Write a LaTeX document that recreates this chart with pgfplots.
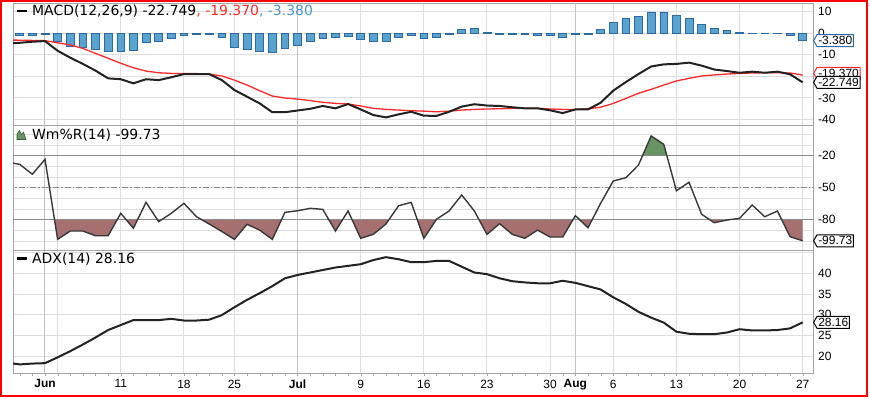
\documentclass[border=0pt]{standalone}
\usepackage{fontspec}
\setmainfont{DejaVu Sans}
\newfontfamily\arialf{Liberation Sans}
\usepackage{pgfplots}
\usepackage{pgfplotstable}
\pgfplotsset{compat=1.18}
\usetikzlibrary{shapes.symbols}

\definecolor{gridc}{RGB}{222,222,222}
\definecolor{monthc}{RGB}{195,195,195}
\definecolor{framec}{RGB}{165,165,165}
\definecolor{histfill}{RGB}{88,163,208}
\definecolor{histdraw}{RGB}{45,105,165}
\definecolor{histtxt}{RGB}{70,150,205}
\definecolor{sigred}{RGB}{255,40,40}
\definecolor{wmred}{RGB}{166,112,112}
\definecolor{wmgreen}{RGB}{104,148,100}
\definecolor{lineblk}{RGB}{34,34,34}
\definecolor{refc}{RGB}{140,140,140}

\pgfplotstableread{
i m s
-3 -4.8 -3.1
-2 -4.4 -3.2
-1 -3.9 -3.3
0 -3.6 -3.4
1 -8.1 -4.4
2 -11.3 -5.4
3 -14.2 -7.0
4 -17.3 -9.3
5 -20.9 -11.6
6 -21.3 -13.9
7 -23.2 -16.0
8 -21.3 -17.5
9 -21.7 -18.3
10 -20.4 -18.6
11 -18.9 -18.6
12 -18.9 -18.7
13 -18.9 -18.9
14 -21.7 -19.8
15 -26.3 -21.7
16 -29.4 -24.0
17 -32.5 -26.6
18 -36.6 -29.1
19 -36.6 -30.0
20 -35.8 -30.5
21 -35.0 -31.2
22 -33.7 -32.0
23 -34.8 -32.5
24 -32.8 -32.8
25 -35.3 -33.7
26 -37.9 -34.8
27 -39.0 -35.3
28 -37.6 -35.6
29 -36.4 -35.9
30 -38.2 -36.1
31 -38.3 -36.4
32 -36.4 -36.1
33 -34.0 -35.6
34 -32.9 -35.3
35 -33.5 -35.1
36 -33.7 -35.0
37 -34.3 -34.8
38 -34.8 -34.8
39 -34.8 -34.8
40 -35.7 -35.1
41 -37.0 -35.3
42 -35.3 -35.3
43 -35.3 -35.0
44 -32.2 -34.3
45 -26.6 -32.5
46 -22.6 -30.2
47 -18.9 -27.8
48 -15.4 -26.0
49 -14.4 -24.0
50 -14.2 -22.1
51 -13.6 -20.9
52 -15.0 -19.8
53 -16.8 -19.3
54 -17.5 -18.9
55 -18.3 -18.6
56 -17.8 -18.4
57 -18.3 -18.3
58 -17.8 -18.3
59 -19.0 -18.4
60 -22.749 -19.37
}\macdtab

\pgfplotstableread{
i h
-2 -1.0
-1 -0.8
0 -0.3
1 -3.7
2 -6.0
3 -6.7
4 -7.6
5 -8.6
6 -8.2
7 -8.0
8 -4.4
9 -3.7
10 -2.4
11 -1.0
12 -0.6
13 -0.6
14 -2.1
15 -6.4
16 -7.5
17 -8.3
18 -9.0
19 -7.2
20 -5.8
21 -3.9
22 -2.3
23 -2.1
24 -1.2
25 -2.8
26 -3.9
27 -3.6
28 -2.1
29 -1.1
30 -2.3
31 -2.0
32 -0.3
33 1.8
34 2.3
35 0.6
36 -0.3
37 -0.3
38 -0.7
39 -0.9
40 -1.0
41 -1.7
42 -0.5
43 -0.3
44 1.9
45 4.9
46 7.0
47 8.0
48 9.9
49 9.9
50 8.3
51 7.0
52 4.2
53 2.3
54 1.4
55 0.3
56 -0.2
57 0.2
58 -0.2
59 -0.8
60 -3.38
}\histtab

\pgfplotstableread{
i w
-3 -26.0
-2 -28.1
-1 -37.4
0 -23.4
1 -98.4
2 -90.6
3 -90.6
4 -95.0
5 -95.0
6 -74.0
7 -88.0
8 -63.7
9 -81.8
10 -74.0
11 -64.6
12 -77.2
13 -84.0
14 -91.0
15 -98.4
16 -84.3
17 -89.7
18 -98.4
19 -73.1
20 -71.6
21 -69.3
22 -70.3
23 -90.6
24 -71.8
25 -97.4
26 -93.7
27 -84.0
28 -66.9
29 -63.7
30 -97.4
31 -79.6
32 -71.8
33 -56.8
34 -71.8
35 -93.7
36 -83.7
37 -93.7
38 -97.4
39 -89.7
40 -96.2
41 -96.2
42 -76.2
43 -87.5
44 -64.6
45 -43.7
46 -40.6
47 -28.7
48 -1.5
49 -9.3
50 -52.8
51 -44.9
52 -74.9
53 -82.8
54 -80.3
55 -78.7
56 -66.2
57 -77.2
58 -71.8
59 -95.9
60 -99.73
}\wmtab

\pgfplotstableread{
i a
-3 18.4
-2 18.0
-1 18.2
0 18.3
1 19.7
2 21.2
3 22.8
4 24.5
5 26.3
6 27.5
7 28.7
8 28.7
9 28.7
10 29.0
11 28.6
12 28.6
13 28.8
14 29.9
15 31.8
16 33.6
17 35.2
18 36.9
19 38.8
20 39.6
21 40.2
22 40.8
23 41.4
24 41.8
25 42.2
26 43.2
27 43.9
28 43.4
29 42.7
30 42.7
31 43.0
32 43.0
33 41.6
34 40.2
35 39.8
36 38.8
37 38.1
38 37.8
39 37.6
40 37.6
41 38.2
42 37.7
43 36.9
44 36.1
45 34.2
46 32.6
47 30.7
48 29.3
49 28.1
50 25.9
51 25.4
52 25.3
53 25.3
54 25.7
55 26.5
56 26.2
57 26.2
58 26.3
59 26.7
60 28.16
}\adxtab

\pgfplotsset{
  panel/.style={
    scale only axis, width=800bp, xmin=-2.534, xmax=60.82,
    axis line style={draw=framec, line width=1bp},
    xtick={1,6,11,15,25,30,35,40,45,50,55,60},
    extra x ticks={0,20,42},
    xticklabels={}, extra x tick labels={},
    xmajorgrids, ymajorgrids,
    major grid style={gridc, line width=1bp},
    extra x tick style={major grid style={monthc, line width=1bp}},
    major tick length=0pt,
    xtick pos=left, ytick pos=right,
    yticklabel pos=right,
    yticklabel style={font=\arialf\fontsize{12}{12}\selectfont, anchor=west, inner sep=0pt, xshift=5bp},
    tick style={framec},
  },
  overlay/.style={
    scale only axis, width=800bp, xmin=-2.534, xmax=60.82, hide axis,
  },
}
\tikzset{
  tagstyle/.style={signal, signal to=west, signal pointer angle=120, fill=white, line width=1bp,
    inner sep=1.2bp, font=\arialf\fontsize{12}{12}\selectfont, anchor=west, minimum height=12bp}
}

\begin{document}
\begin{tikzpicture}[x=1bp,y=1bp]
\path[use as bounding box] (0,0) rectangle (870,-398);

% MACD panel
\begin{axis}[panel, at={(13bp,-3bp)}, anchor=north west, height=122bp,
  ymin=-42.53, ymax=14.05,
  ytick={-40,-30,-20,-10,0,10}, yticklabels={-40,-30,-20,-10,0,10}]
\addplot[ybar, bar width=7.8bp, fill=histfill, draw=histdraw, line width=0.7bp] table[x=i,y=h] {\histtab};
\addplot[sigred, line width=1.3bp] table[x=i,y=s] {\macdtab};
\addplot[lineblk, line width=2bp] table[x=i,y=m] {\macdtab};
\coordinate (tagA) at (axis cs:60.82,-3.38);
\coordinate (tagB) at (axis cs:60.82,-18.6);
\coordinate (tagC) at (axis cs:60.82,-22.749);
\end{axis}

% Williams %R panel: frame and grid
\begin{axis}[panel, at={(13bp,-125bp)}, anchor=north west, height=125.5bp,
  ymin=-108.85, ymax=8.77,
  ytick={-100,-90,-80,-70,-60,-50,-40,-30,-20,-10,0},
  yticklabels={,,-80,,,-50,,,-20,,}]
\addplot[draw=none] coordinates {(0,-50)};
\coordinate (tagD) at (axis cs:60.82,-99.73);
\end{axis}
% oversold fill (below -80), clipped by its own axis box
\begin{axis}[overlay, at={(13bp,-250.5bp)}, anchor=south west, height=30.783bp,
  ymin=-108.85, ymax=-80]
\addplot[fill=wmred, draw=none] table[x=i,y=w] {\wmtab} -- (axis cs:60,0) -- (axis cs:-3,0) -- cycle;
\end{axis}
% overbought fill (above -20)
\begin{axis}[overlay, at={(13bp,-125bp)}, anchor=north west, height=30.697bp,
  ymin=-20, ymax=8.77]
\addplot[fill=wmgreen, draw=none] table[x=i,y=w] {\wmtab} -- (axis cs:60,-200) -- (axis cs:-3,-200) -- cycle;
\end{axis}
% lines
\begin{axis}[overlay, at={(13bp,-125bp)}, anchor=north west, height=125.5bp,
  ymin=-108.85, ymax=8.77]
\addplot[refc, line width=1.3bp] coordinates {(-3,-20) (61,-20)};
\addplot[refc, line width=1.3bp] coordinates {(-3,-80) (61,-80)};
\addplot[refc, line width=1bp, dash pattern=on 6bp off 2bp on 1.5bp off 2bp] coordinates {(-3,-50) (61,-50)};
\addplot[lineblk!90, line width=1.4bp] table[x=i,y=w] {\wmtab};
\end{axis}

% ADX panel
\begin{axis}[panel, at={(13bp,-250.5bp)}, anchor=north west, height=122.5bp,
  ymin=15.92, ymax=45.51,
  ytick={20,25,30,35,40,45}, yticklabels={20,25,30,35,40,},
  xticklabels={,11,18,25,9,16,23,30,6,13,20,27},
  extra x tick labels={Jun,Jul,Aug},
  xticklabel style={font=\arialf\fontsize{12}{12}\selectfont, anchor=north, inner sep=0pt, yshift=-6.5bp},
  extra x tick style={xticklabel style={font=\arialf\bfseries\fontsize{12}{12}\selectfont}},
  minor xtick={-2,...,60}, minor tick length=3bp, tick align=outside]
\addplot[lineblk, line width=2bp] table[x=i,y=a] {\adxtab};
\coordinate (tagE) at (axis cs:60.82,28.16);
\end{axis}

% value tags
\node[tagstyle, draw=histdraw] at (tagA) {-3.380};
\node[tagstyle, draw=sigred] at (tagB) {-19.370};
\node[tagstyle, draw=black] at (tagC) {-22.749};
\node[tagstyle, draw=black] at (tagD) {-99.73};
\node[tagstyle, draw=black] at (tagE) {28.16};

% titles
\draw[black, line width=2.5bp] (17,-11) -- (26.5,-11);
\node[anchor=base west, inner sep=0pt, font=\fontsize{14}{16}\selectfont] at (32,-15.5)
  {MACD(12,26,9) -22.749{\color{sigred}, -19.370}{\color{histtxt}, -3.380}};
\fill[wmgreen, draw=wmgreen!60!black, line width=0.6bp] (17,-139.5) -- (17,-134) -- (19.5,-130.5) -- (21.5,-134.5) -- (23.5,-132) -- (26,-139.5) -- cycle;
\node[anchor=base west, inner sep=0pt, font=\fontsize{14}{16}\selectfont] at (32,-139)
  {Wm\%R(14) -99.73};
\draw[black, line width=2.5bp] (17,-258.5) -- (26.5,-258.5);
\node[anchor=base west, inner sep=0pt, font=\fontsize{14}{16}\selectfont] at (32,-263)
  {ADX(14) 28.16};

% outer frame
\draw[red, line width=2bp] (1,-1) rectangle (866.5,-396);
\end{tikzpicture}
\end{document}
